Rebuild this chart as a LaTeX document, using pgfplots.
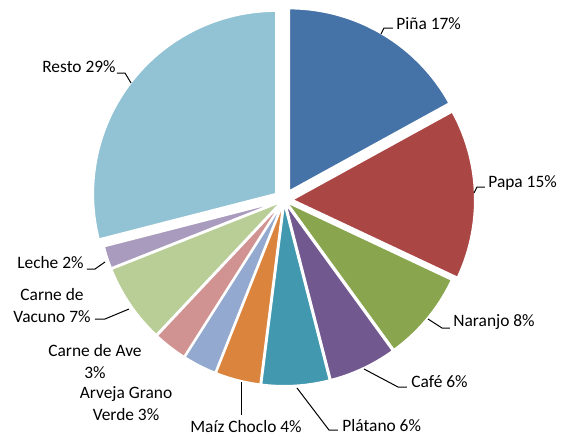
\documentclass[border=0pt]{standalone}
\usepackage{fontspec}
\setmainfont{Carlito}
\usepackage{pgfplots}
\usepackage{pgfplotstable}
\pgfplotsset{compat=1.18}

\definecolor{slicecolor0}{HTML}{4572A7}
\definecolor{slicecolor1}{HTML}{AA4643}
\definecolor{slicecolor2}{HTML}{89A54E}
\definecolor{slicecolor3}{HTML}{71588F}
\definecolor{slicecolor4}{HTML}{4198AF}
\definecolor{slicecolor5}{HTML}{DB843D}
\definecolor{slicecolor6}{HTML}{93A9CF}
\definecolor{slicecolor7}{HTML}{D19392}
\definecolor{slicecolor8}{HTML}{B9CD96}
\definecolor{slicecolor9}{HTML}{A99BBD}
\definecolor{slicecolor10}{HTML}{91C3D5}

% share (%) and explosion distance of each slice
\pgfplotstableread{
name     value explode
Pina     17    10
Papa     15    8
Naranjo  8     3
Cafe     6     3
Platano  6     3
Maiz     4     3
Arveja   3     3
Ave      3     3
Vacuno   7     3
Leche    2     3
Resto    29    10
}\piedata

\begin{document}
\begin{tikzpicture}
\begin{axis}[
  scale only axis, width=285pt, height=218pt,
  xmin=0, xmax=570, ymin=-436, ymax=0,
  hide axis, clip=false,
]
\addplot[draw=none] coordinates {(0,0) (570,-436)};
\pgfmathsetmacro\cum{0}
\pgfplotsforeachungrouped \i in {0,...,10}{%
  \pgfplotstablegetelem{\i}{value}\of\piedata
  \pgfmathsetmacro\v{\pgfplotsretval}%
  \pgfplotstablegetelem{\i}{explode}\of\piedata
  \pgfmathsetmacro\ex{\pgfplotsretval}%
  \pgfmathsetmacro\a{3.6*\cum}%
  \pgfmathsetmacro\b{3.6*(\cum+\v)}%
  \pgfmathsetmacro\m{(\a+\b)/2}%
  \pgfmathsetmacro\cx{284+\ex*sin(\m)}%
  \pgfmathsetmacro\cy{-200+\ex*cos(\m)}%
  \pgfmathsetmacro\ns{int(max(3,\v*2))}%
  \edef\doplot{\noexpand\addplot[fill=slicecolor\i, draw=white, line width=1pt,
     domain=\a:\b, samples=\ns, variable=\noexpand\t]
     ({\cx+183*sin(\noexpand\t)},{\cy+183*cos(\noexpand\t)}) -- (axis cs:\cx,\cy) -- cycle;}%
  \doplot
  \pgfmathsetmacro\cum{\cum+\v}%
}

% leader lines
\addplot[black, line width=0.5pt] coordinates {(381,-34) (384,-28) (393,-28)};
\addplot[black, line width=0.5pt] coordinates {(474,-193) (477,-187) (485,-187)};
\addplot[black, line width=0.5pt] coordinates {(428,-319) (442,-328) (450,-328)};
\addplot[black, line width=0.5pt] coordinates {(364,-369) (398,-387) (407,-387)};
\addplot[black, line width=0.5pt] coordinates {(297,-388) (329,-430) (338,-430)};
\addplot[black, line width=0.5pt] coordinates {(242,-382) (242,-415)};
\addplot[black, line width=0.5pt] coordinates {(129,-309) (105,-319) (95,-319)};
\addplot[black, line width=0.5pt] coordinates {(105,-262) (95,-269) (87,-269)};
\addplot[black, line width=0.5pt] coordinates {(131,-83) (125,-73) (117,-73)};

\begin{scope}[every node/.style={font=\fontsize{8.7}{11}\selectfont, inner sep=0pt}]
\node[anchor=west] at (axis cs:396,-24) {Piña 17\%};
\node[anchor=west] at (axis cs:488,-183) {Papa 15\%};
\node[anchor=west] at (axis cs:453,-322) {Naranjo 8\%};
\node[anchor=west] at (axis cs:411,-382) {Café 6\%};
\node[anchor=west] at (axis cs:342,-426) {Plátano 6\%};
\node[anchor=center] at (axis cs:246,-427) {Maíz Choclo 4\%};
\node[anchor=center, align=center] at (axis cs:126,-404) {Arveja Grano\\Verde 3\%};
\node[anchor=center, align=center] at (axis cs:95,-362) {Carne de Ave\\3\%};
\node[anchor=center, align=center] at (axis cs:52,-306) {Carne de\\Vacuno 7\%};
\node[anchor=east] at (axis cs:84,-263) {Leche 2\%};
\node[anchor=east] at (axis cs:116,-67) {Resto 29\%};
\end{scope}
\end{axis}
\end{tikzpicture}
\end{document}
